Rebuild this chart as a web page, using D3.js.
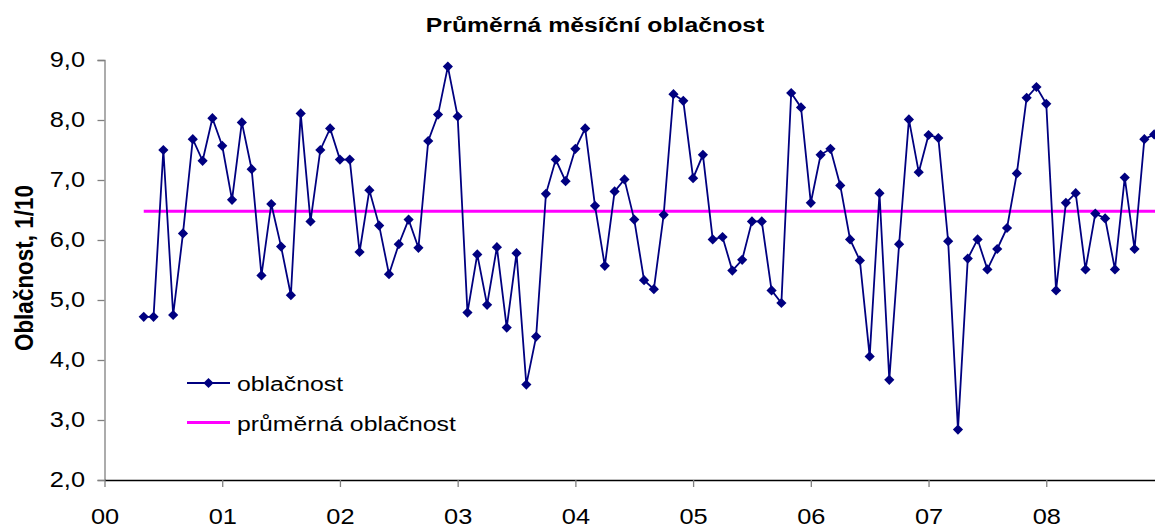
<!DOCTYPE html>
<html>
<head>
<meta charset="utf-8">
<script src="https://cdn.jsdelivr.net/npm/d3@7"></script>
<style>
  body { margin: 0; background: #fff; }
  svg { font-family: Arial, "Liberation Sans", sans-serif; display: block; }
</style>
</head>
<body>
<svg width="1155" height="530"></svg>
<script>
// data: monthly mean cloudiness, first value = May 2000 (month index 4)
var firstMonth = 4;
var oblacnost = [
  4.72, 4.72, 7.50, 4.75, 6.11, 7.68, 7.32, 8.03,
  7.57, 6.67, 7.96, 7.18, 5.41, 6.60, 5.89, 5.08, 8.11, 6.31, 7.50, 7.86,
  7.34, 7.34, 5.80, 6.83, 6.24, 5.43, 5.93, 6.34, 5.87, 7.65, 8.09, 8.89,
  8.06, 4.79, 5.76, 4.92, 5.88, 4.54, 5.78, 3.59, 4.39, 6.77, 7.34, 6.98,
  7.52, 7.86, 6.57, 5.57, 6.81, 7.01, 6.34, 5.33, 5.18, 6.42, 8.43, 8.32,
  7.03, 7.42, 6.01, 6.05, 5.49, 5.67, 6.31, 6.31, 5.16, 4.95, 8.45, 8.21,
  6.62, 7.42, 7.52, 6.91, 6.01, 5.66, 4.06, 6.78, 3.67, 5.93, 8.01, 7.13,
  7.75, 7.70, 5.98, 2.84, 5.69, 6.01, 5.51, 5.85, 6.20, 7.11, 8.37, 8.55,
  8.27, 5.16, 6.62, 6.78, 5.51, 6.44, 6.36, 5.51, 7.04, 5.85, 7.68, 7.76
];
var prumer = 6.48;
var yearLabels = ["00", "01", "02", "03", "04", "05", "06", "07", "08"];
var yTicks = [2, 3, 4, 5, 6, 7, 8, 9];
// end of data

var sx = 1.18; // the original picture is a bit wider than tall

var svg = d3.select("svg");

var x = d3.scaleLinear().domain([0, 120]).range([104.5, 104.5 + 120 * 9.81]);
var y = d3.scaleLinear().domain([2, 9]).range([480, 60]);

var points = oblacnost.map(function(v, i) { return { m: firstMonth + i, v: v }; });

// title
svg.append("g").attr("transform", "translate(595,32)")
  .append("text")
    .attr("transform", "scale(" + sx + ",1)")
    .attr("text-anchor", "middle")
    .style("font-size", "21px").style("font-weight", "bold")
    .text("Průměrná měsíční oblačnost");

// y axis title
svg.append("text")
  .attr("transform", "translate(33,268) rotate(-90) scale(1," + sx + ")")
  .attr("text-anchor", "middle")
  .style("font-size", "22.5px").style("font-weight", "bold")
  .text("Oblačnost, 1/10");

// y axis
var yAxis = svg.append("g")
  .attr("transform", "translate(" + x(0) + ",0)")
  .call(d3.axisLeft(y).tickValues(yTicks).tickSize(7).tickPadding(12.5)
    .tickFormat(function(d) { return d3.format(".1f")(d).replace(".", ","); }));
yAxis.select(".domain").attr("stroke", "#808080").attr("stroke-width", 1.3);
yAxis.selectAll(".tick line").attr("stroke", "#808080").attr("stroke-width", 1.3);
yAxis.selectAll("text")
  .style("font-size", "21.5px").attr("fill", "#000")
  .attr("font-family", "Arial, 'Liberation Sans', sans-serif")
  .attr("x", -19.5 / sx)
  .attr("transform", "scale(" + sx + ",1)");

// x axis
var xAxis = svg.append("g")
  .attr("transform", "translate(0," + y(2) + ")")
  .call(d3.axisBottom(x).tickValues(d3.range(0, 108, 12)).tickSize(7).tickSizeOuter(0).tickPadding(22)
    .tickFormat(function(d) { return yearLabels[d / 12]; }));
xAxis.select(".domain").attr("stroke", "#000").attr("stroke-width", 1.3);
xAxis.selectAll(".tick line").attr("stroke", "#808080").attr("stroke-width", 1.3);
xAxis.selectAll("text")
  .style("font-size", "21.5px").attr("fill", "#000")
  .attr("font-family", "Arial, 'Liberation Sans', sans-serif")
  .attr("transform", "scale(" + sx + ",1)");

// average line
svg.append("line")
  .attr("x1", x(firstMonth)).attr("x2", x(120))
  .attr("y1", y(prumer)).attr("y2", y(prumer))
  .attr("stroke", "#ff00ff").attr("stroke-width", 3);

// series line
var line = d3.line()
  .x(function(d) { return x(d.m); })
  .y(function(d) { return y(d.v); });

svg.append("path")
  .datum(points)
  .attr("fill", "none")
  .attr("stroke", "#000080")
  .attr("stroke-width", 1.8)
  .attr("d", line);

var marker = d3.symbol().type(d3.symbolSquare).size(52);

svg.selectAll(".pt")
  .data(points)
  .enter().append("path")
    .attr("class", "pt")
    .attr("transform", function(d) { return "translate(" + x(d.m) + "," + y(d.v) + ") rotate(45)"; })
    .attr("d", marker)
    .attr("fill", "#000080");

// legend
var legend = svg.append("g");
legend.append("line")
  .attr("x1", 187).attr("x2", 230).attr("y1", 383).attr("y2", 383)
  .attr("stroke", "#000080").attr("stroke-width", 1.8);
legend.append("path")
  .attr("transform", "translate(208.5,383) rotate(45)")
  .attr("d", marker)
  .attr("fill", "#000080");
legend.append("g").attr("transform", "translate(237,391)")
  .append("text")
    .attr("transform", "scale(" + sx + ",1)")
    .style("font-size", "21px")
    .text("oblačnost");
legend.append("line")
  .attr("x1", 187).attr("x2", 230).attr("y1", 422.5).attr("y2", 422.5)
  .attr("stroke", "#ff00ff").attr("stroke-width", 3);
legend.append("g").attr("transform", "translate(237,431)")
  .append("text")
    .attr("transform", "scale(" + sx + ",1)")
    .style("font-size", "21px")
    .text("průměrná oblačnost");
</script>
</body>
</html>
